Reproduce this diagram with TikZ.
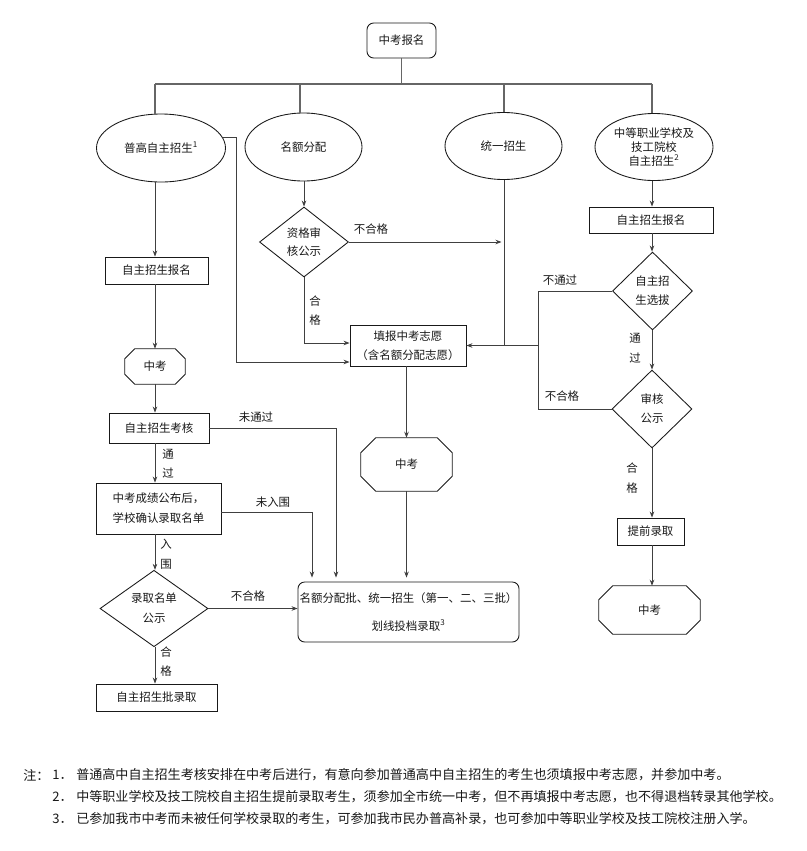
\documentclass[tikz,border=0pt]{standalone}
\usepackage{fontspec}
\setmainfont{Noto Sans CJK SC}
\usetikzlibrary{shapes.geometric,arrows.meta,calc}
\newcommand\octdraw[2]{%
 \draw[nodeline] ($(#1.north west)+(#2,0)$) -- ($(#1.north east)+(-#2,0)$) -- ($(#1.north east)+(0,#2)$) -- ($(#1.south east)+(0,-#2)$) -- ($(#1.south east)+(-#2,0)$) -- ($(#1.south west)+(#2,0)$) -- ($(#1.south west)+(0,-#2)$) -- ($(#1.north west)+(0,#2)$) -- cycle;}
\tikzset{
 every node/.style={font=\fontsize{8.6}{10.5}\selectfont, inner sep=0pt, text=black!90},
 wh/.style 2 args={minimum width=#1*0.75pt, minimum height=#2*0.75pt},
 nodeline/.style={draw=black!90, line width=0.65pt},
 box/.style={rectangle, nodeline},
 rbox/.style={rectangle, rounded corners=5pt, nodeline},
 ell/.style={ellipse, nodeline},
 dia/.style={diamond, nodeline, aspect=1},
 oct/.style={rectangle},
 arr/.style={-{Stealth[length=4.5pt,width=3.4pt]}, line width=0.65pt, draw=black!75},
 ln/.style={line width=0.65pt, draw=black!75},
 bus/.style={line width=1.1pt, draw=black!60},
 lbl/.style={},
 note/.style={anchor=west, font=\fontsize{9.8}{12}\selectfont}
}
\begin{document}
\begin{tikzpicture}[x=0.75pt,y=-0.75pt]
\useasboundingbox (0,0) rectangle (807,851);
\fill[white] (0,0) rectangle (807,851);

% nodes
\node[rbox, wh={69}{35}] (top) at (401.5,40.5) {中考报名};
\node[ell, wh={129}{68}] (e1) at (161,148) {普高自主招生\textsuperscript{1}};
\node[ell, wh={117}{68}] (e2) at (303.5,147) {名额分配};
\node[ell, wh={117}{67}] (e3) at (503.5,146) {统一招生};
\node[ell, wh={118}{67}, align=center] (e4) at (654,147) {中等职业学校及\\技工院校\\自主招生\textsuperscript{2}};

\node[box, wh={103}{27}] (b1) at (156.5,270.5) {自主招生报名};
\node[oct, wh={60}{35}] (o1) at (155,366.5) {中考};
\node[box, wh={100}{30}] (b2) at (159,428) {自主招生考核};
\node[box, wh={125}{51}, align=left] (b3) at (158.5,508.5) {中考成绩公布后，\\[4.5pt]学校确认录取名单};
\node[dia, wh={108}{71}, align=center] (d1) at (154,608.5) {录取名单\\[4.5pt]公示};
\node[box, wh={121}{27}] (b4) at (156.5,697.5) {自主招生批录取};

\node[dia, wh={89}{70}, align=center] (d2) at (304,242) {资格审\\[3pt]核公示};
\node[box, wh={116}{41}, align=center] (b5) at (408,345.5) {填报中考志愿\\[3.75pt]（含名额分配志愿）};
\node[oct, wh={91}{53}] (o2) at (406.5,464.5) {中考};
\node[rbox, wh={221}{60}, align=center] (b6) at (408.5,612) {名额分配批、统一招生（第一、二、三批）\\[10.5pt]划线投档录取\textsuperscript{3}};

\node[box, wh={124}{26}] (b7) at (651,220) {自主招生报名};
\node[dia, wh={80}{78}, align=center] (d3) at (652.5,291) {自主招\\[3.75pt]生选拔};
\node[dia, wh={80}{78}, align=center] (d4) at (652,409) {审核\\[3.75pt]公示};
\node[box, wh={67}{27}] (b8) at (650.5,531.5) {提前录取};
\node[oct, wh={101}{48}] (o3) at (649.5,610) {中考};

\octdraw{o1}{10}
\octdraw{o2}{15}
\octdraw{o3}{14}

% bus
\coordinate (busL) at (155,84);
\coordinate (bus2) at (300,84);
\coordinate (bus3) at (504,84);
\coordinate (busR) at (652,84);
\draw[bus] (top.south) -- (top.south |- busL);
\draw[bus] (busL) -- (busR);
\draw[bus] (busL) -- (busL |- e1.north);
\draw[bus] (bus2) -- (bus2 |- e2.north);
\draw[bus] (bus3) -- (bus3 |- e3.north);
\draw[bus] (busR) -- (busR |- e4.north);

% left column
\draw[arr] (e1.south -| o1) -- (b1.north -| o1);
\draw[arr] (b1.south -| o1) -- (o1.north);
\draw[arr] (o1.south) -- (b2.north -| o1);
\draw[arr] (b2.south -| o1) -- (b3.north -| o1);
\draw[arr] (b3.south -| o1) -- (d1.north -| o1);
\draw[arr] (d1.south -| o1) -- (b4.north -| o1);

\coordinate (t1) at (336,0);
\coordinate (t2) at (312,0);
\draw[arr] (b2.east) -| ($(t1 |- b6.north)+(0,-4)$);
\draw[arr] ($(b3.east)+(0,3.5)$) -| ($(t2 |- b6.north)+(0,-4)$);
\draw[arr] (d1.east) -- (d1.east -| b6.west);

\coordinate (j1) at (236,362);
\draw[arr] (e1.10) -| (j1) -- (j1 -| b5.west);

% middle
\draw[arr] (e2.south -| d2) -- (d2.north);
\draw[arr] (d2.east) -- ($(d2.east -| e3.south)+(-2,0)$);
\coordinate (j2) at (304,343);
\draw[arr] (d2.south) -- (j2) -- (j2 -| b5.west);
\draw[arr] (e3.south -| bus3) |- (b5.east);
\draw[arr] (b5.south -| o2) -- (o2.north);
\draw[arr] (o2.south) -- ($(o2.south |- b6.north)+(0,-4)$);

% right column
\coordinate (j3) at (538,345.5);
\draw[ln] (d3.west) -| (j3);
\draw[ln] (d4.west) -| (j3);
\draw[ln] (j3) -- (j3 -| bus3);
\draw[arr] (e4.south -| busR) -- (b7.north -| busR);
\draw[arr] (b7.south -| busR) -- (d3.north -| busR);
\draw[arr] (d3.south -| busR) -- (d4.north -| busR);
\draw[arr] (d4.south -| busR) -- (b8.north -| busR);
\draw[arr] (b8.south -| busR) -- (o3.north -| busR);

% labels
\node[lbl] (lb1) at (371,229) {不合格};
\node[lbl] (lb2) at (315,301) {合};
\node[lbl] (lb3) at (315,320) {格};
\node[lbl] (lb4) at (256,417) {未通过};
\node[lbl] (lb5) at (168,454) {通};
\node[lbl] (lb6) at (168,473) {过};
\node[lbl] (lb7) at (273,502) {未入围};
\node[lbl] (lb8) at (166,544) {入};
\node[lbl] (lb9) at (166,564) {围};
\node[lbl] (lb10) at (248,596) {不合格};
\node[lbl] (lb11) at (166,652) {合};
\node[lbl] (lb12) at (166,671) {格};
\node[lbl] (lb13) at (560,280) {不通过};
\node[lbl] (lb14) at (562,396) {不合格};
\node[lbl] (lb15) at (635,338) {通};
\node[lbl] (lb16) at (635,358) {过};
\node[lbl] (lb17) at (632,468) {合};
\node[lbl] (lb18) at (632,488) {格};

% notes
\node[note] (n0) at (23,775) {注：};
\node[note] (n1a) at (52,775) {1．};
\node[note] (n1) at (76,775) {普通高中自主招生考核安排在中考后进行，有意向参加普通高中自主招生的考生也须填报中考志愿，并参加中考。};
\node[note] (n2a) at (52,797) {2．};
\node[note] (n2) at (76,797) {中等职业学校及技工院校自主招生提前录取考生，须参加全市统一中考，但不再填报中考志愿，也不得退档转录其他学校。};
\node[note] (n3a) at (52,819) {3．};
\node[note] (n3) at (76,819) {已参加我市中考而未被任何学校录取的考生，可参加我市民办普高补录，也可参加中等职业学校及技工院校注册入学。};
\end{tikzpicture}
\end{document}
